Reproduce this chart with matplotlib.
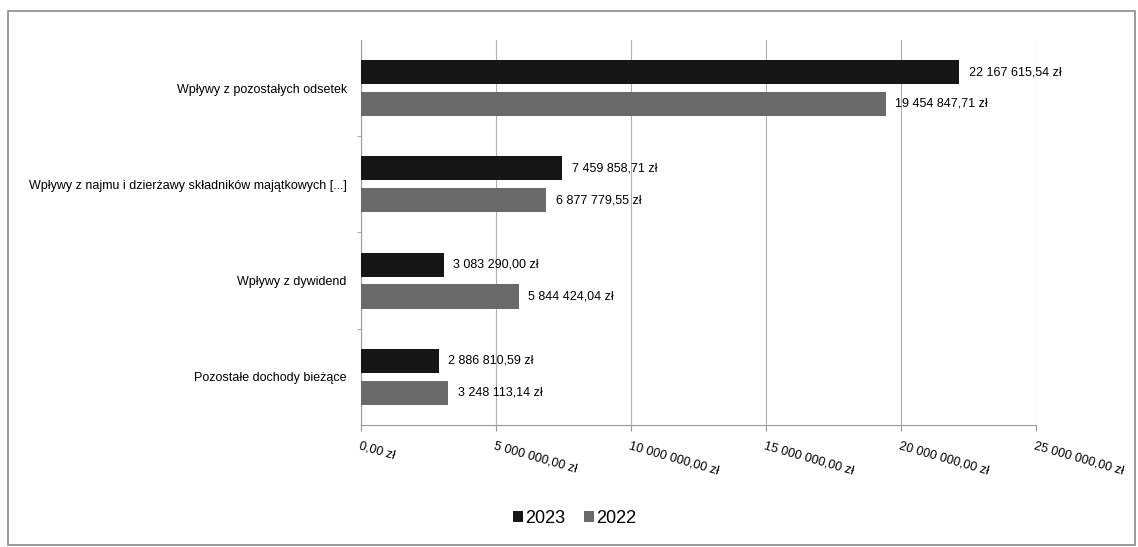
import numpy as np
import matplotlib.pyplot as plt
from matplotlib.patches import Rectangle

categories = ['Wpływy z pozostałych odsetek',
              'Wpływy z najmu i dzierżawy składników majątkowych [...]',
              'Wpływy z dywidend',
              'Pozostałe dochody bieżące']
v2023 = [22167615.54, 7459858.71, 3083290.00, 2886810.59]
v2022 = [19454847.71, 6877779.55, 5844424.04, 3248113.14]
xticks = [0, 5e6, 10e6, 15e6, 20e6, 25e6]

plt.rcParams['font.family'] = ['Liberation Sans', 'DejaVu Sans']


def pln(v):
    s = f"{v:,.2f}"
    s = s.replace(',', ' ').replace('.', ',')
    return s + ' zł'


fig = plt.figure(figsize=(11.38, 5.47), dpi=100)
fig.patches.append(Rectangle((0.007, 0.004), 0.99, 0.975, transform=fig.transFigure,
                             fill=False, edgecolor='#8a8a8a', lw=1.2))
ax = fig.add_axes([0.317, 0.223, 0.593, 0.704])

y = np.arange(len(categories))
h = 0.25
off = 0.165
c23 = '#161616'
c22 = '#6a6a6a'
ax.barh(y - off, v2023, height=h, color=c23, label='2023', zorder=3)
ax.barh(y + off, v2022, height=h, color=c22, label='2022', zorder=3)

for i in range(len(categories)):
    ax.text(v2023[i] + 3.5e5, y[i] - off, pln(v2023[i]), va='center', ha='left', fontsize=9, zorder=4)
    ax.text(v2022[i] + 3.5e5, y[i] + off, pln(v2022[i]), va='center', ha='left', fontsize=9, zorder=4)

ax.set_xlim(0, 25e6)
ax.set_ylim(3.5, -0.5)
ax.set_yticks(y)
ax.set_yticklabels(categories, fontsize=9)
ax.tick_params(axis='y', length=0, pad=10)
ax.set_yticks([0.5, 1.5, 2.5], minor=True)
ax.tick_params(axis='y', which='minor', length=3, color='#999999')

ax.set_xticks(xticks)
ax.set_xticklabels([pln(t) for t in xticks], rotation=-16, ha='left', va='top',
                   rotation_mode='anchor', fontsize=9)
ax.tick_params(axis='x', length=4, color='#999999', pad=7)
ax.grid(axis='x', color='#b0b0b0', lw=0.8, zorder=0)

for s in ['top', 'right']:
    ax.spines[s].set_visible(False)
ax.spines['left'].set_color('#999999')
ax.spines['bottom'].set_color('#999999')

fig.legend(loc='center', bbox_to_anchor=(0.505, 0.053), ncol=2, frameon=False,
           fontsize=13, handlelength=0.55, handleheight=0.55, handletextpad=0.15,
           columnspacing=1.0)

fig.savefig('out.png', dpi=100)
